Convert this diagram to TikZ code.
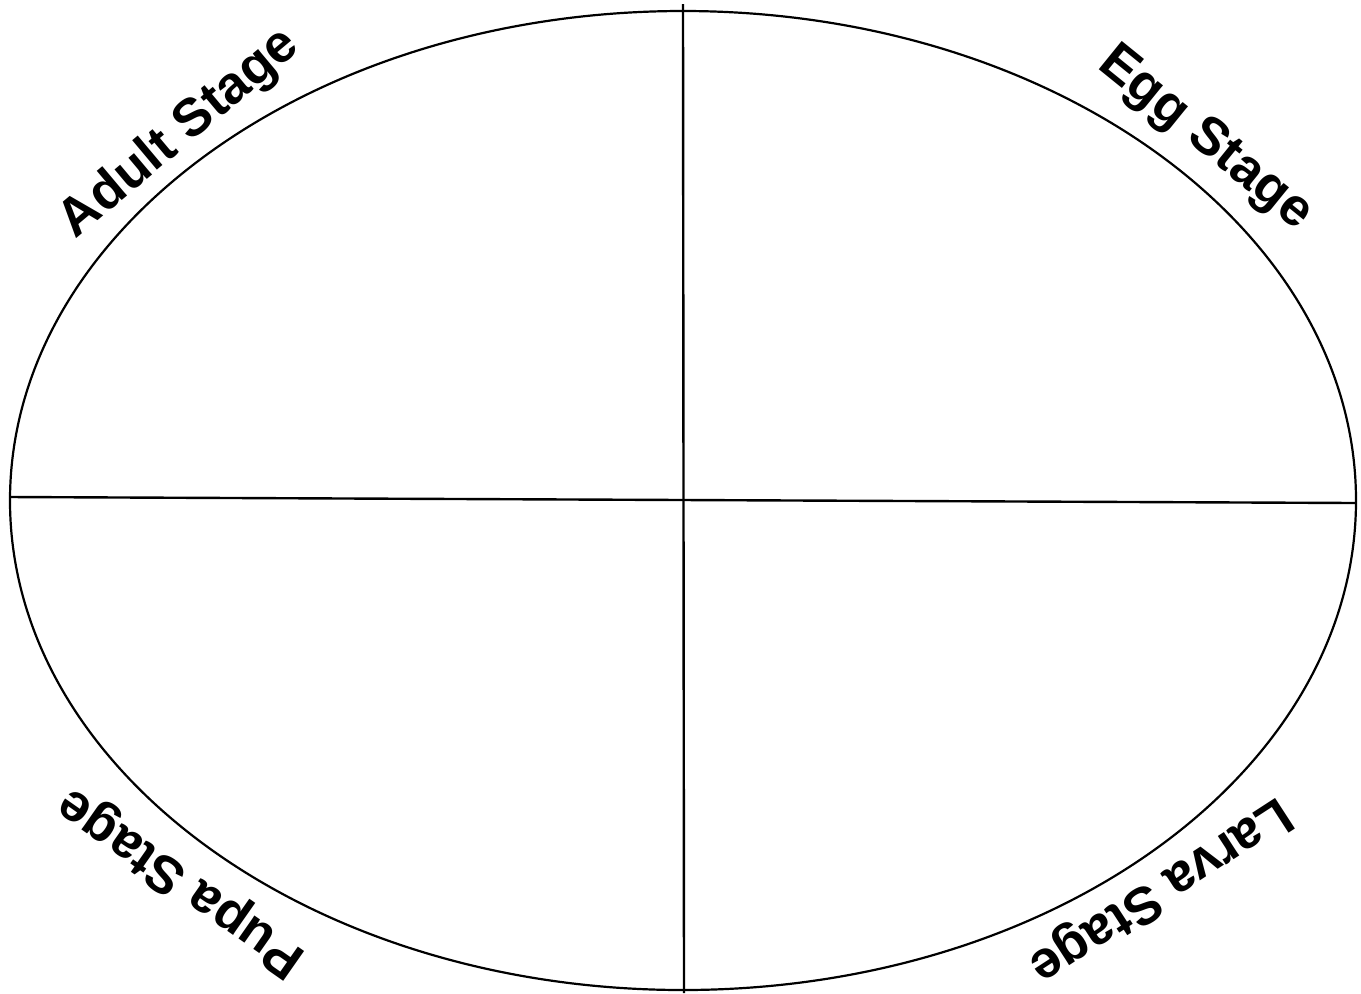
\documentclass[tikz,border=0pt]{standalone}
\usepackage{fontspec}
\setmainfont{Liberation Sans}
\usetikzlibrary{positioning}

\begin{document}
\begin{tikzpicture}[x=0.5pt, y=-0.5pt,
      stage/.style={font=\fontsize{26.5}{29}\selectfont\bfseries, inner sep=0pt},
      rim/.style={line width=1.1pt},
      axis/.style={line width=1.2pt}]
    \useasboundingbox (0,0) rectangle (1361,993);
    % outline and quarters
    \draw[rim] (683,500.5) ellipse [x radius=673, y radius=489.5];
    \coordinate (top) at (683,4);
    \coordinate (bot) at (684,993);
    \coordinate (lft) at (10,497);
    \coordinate (rgt) at (1356,503);
    \draw[axis] (top) -- (bot);
    \draw[axis] (lft) -- (rgt);
    % stage labels
    \node[stage, rotate=40]  (adult) at (180,134) {Adult Stage};
    \node[stage, rotate=-39] (egg)   at (1205,139) {Egg Stage};
    \node[stage, rotate=213] (larva) at (1160,889) {Larva Stage};
    \node[stage, rotate=145] (pupa)  at (182,881) {Pupa Stage};
\end{tikzpicture}
\end{document}
